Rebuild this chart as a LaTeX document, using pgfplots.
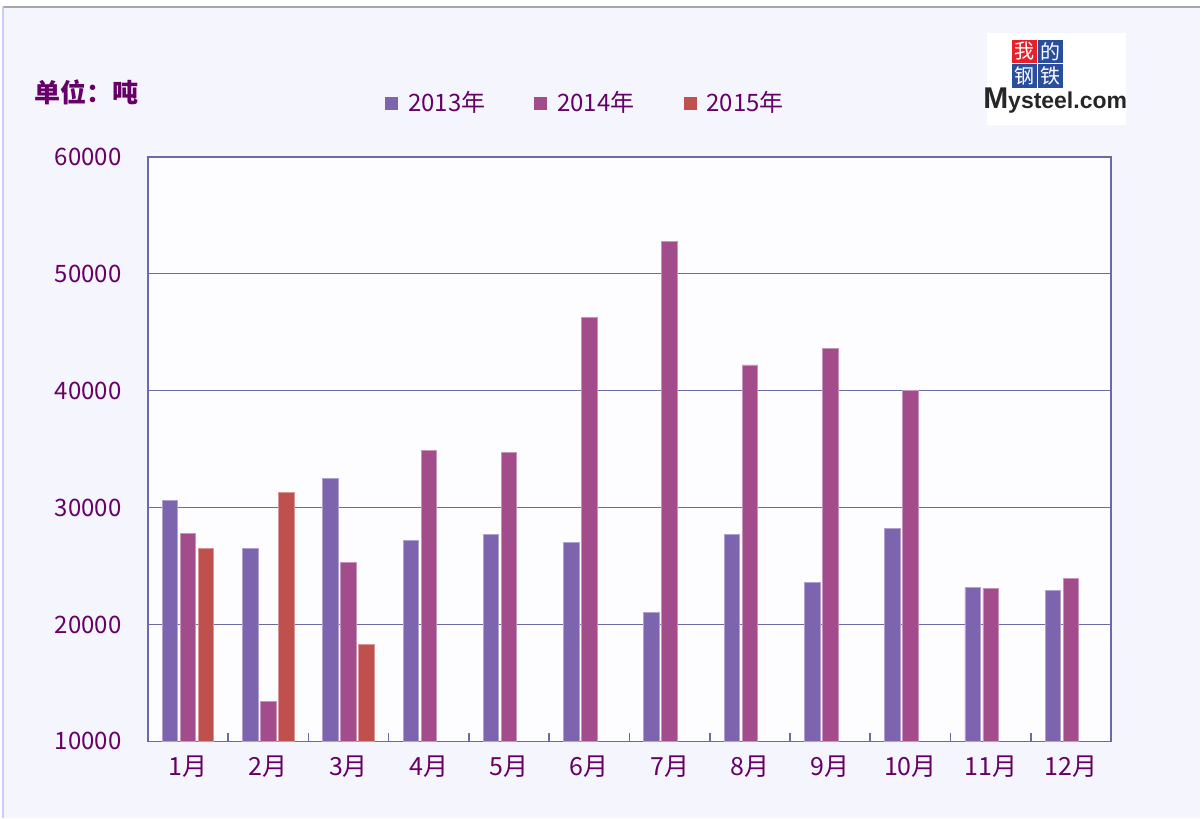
\documentclass[border=0pt]{standalone}
\usepackage{pgfplots}
\pgfplotsset{compat=1.18}
\usepackage{fontspec}
\newfontfamily\cjk{Noto Sans CJK SC}
\newfontfamily\logofont{Liberation Sans}
\setmainfont{Noto Sans CJK SC}
\definecolor{cA}{HTML}{7C64AE}
\definecolor{cB}{HTML}{A24C8C}
\definecolor{cC}{HTML}{C0504D}
\definecolor{axc}{HTML}{6A6AA8}
\definecolor{txt}{HTML}{660066}
\definecolor{bgc}{HTML}{F5F5FE}
\definecolor{plotbg}{HTML}{FDFDFF}
\definecolor{logored}{HTML}{E8202A}
\definecolor{logoblue}{HTML}{2A4E9E}
\pgfplotsset{/pgfplots/ybar legend/.style={/pgfplots/legend image code/.code={\fill[##1,draw=none] (0pt,-3.25pt) rectangle (6.5pt,3.25pt);}}}
\begin{document}
\begin{tikzpicture}
\fill[white] (0pt,0pt) rectangle (600.5pt,409.5pt);
\fill[bgc] (1.5pt,0pt) rectangle (600.5pt,406pt);
\draw[gray!70,line width=1pt] (1.5pt,406pt) -- (600.5pt,406pt);
\draw[blue!20,line width=0.6pt] (1.5pt,0pt) -- (1.5pt,406pt);
% unit label
\node[text=txt,font=\fontsize{13}{15}\selectfont\bfseries] at (43.5pt,363.5pt) {单位：吨};
% logo
\fill[white] (494pt,347pt) rectangle (563.5pt,393pt);
\fill[logored] (506.5pt,378pt) rectangle (519pt,389.5pt);
\fill[logoblue] (519.5pt,378pt) rectangle (532pt,389.5pt);
\fill[logoblue] (506.5pt,365.5pt) rectangle (519pt,377.5pt);
\fill[logoblue] (519.5pt,365.5pt) rectangle (532pt,377.5pt);
\node[text=white,font=\fontsize{10}{10}\selectfont,inner sep=0pt] at (512.75pt,383.75pt) {我};
\node[text=white,font=\fontsize{10}{10}\selectfont,inner sep=0pt] at (525.75pt,383.75pt) {的};
\node[text=white,font=\fontsize{10}{10}\selectfont,inner sep=0pt] at (512.75pt,371.5pt) {钢};
\node[text=white,font=\fontsize{10}{10}\selectfont,inner sep=0pt] at (525.75pt,371.5pt) {铁};
\node[text=black!85,font=\logofont\fontsize{11.5}{12}\selectfont\bfseries,inner sep=0pt] at (528pt,359pt) {\fontsize{15}{15}\selectfont M\fontsize{11.5}{12}\selectfont ysteel.com};
\begin{axis}[
  at={(74pt,38.5pt)}, anchor=south west,
  scale only axis, width=482pt, height=292.5pt,
  axis background/.style={fill=plotbg},
  ybar, bar width=7.75pt, ybar=1.25pt,
  xmin=0.5, xmax=12.5, ymin=10000, ymax=60000,
  xtick={1,...,12},
  xticklabels={1月,2月,3月,4月,5月,6月,7月,8月,9月,10月,11月,12月},
  minor xtick={1.5,2.5,...,11.5},
  major x tick style={draw=none},
  minor tick length=4pt,
  tick align=inside,
  xtick pos=bottom,
  ytick={10000,20000,...,60000},
  scaled y ticks=false,
  ytick style={draw=none},
  ymajorgrids,
  grid style={axc,line width=0.7pt},
  axis line style={axc,line width=0.8pt},
  minor x tick style={axc,line width=0.8pt},
  /pgf/number format/assume math mode=true,
  /pgf/number format/fixed,
  /pgf/number format/set thousands separator={},
  yticklabel style={text=txt,font=\fontsize{12}{14}\selectfont,anchor=east,inner sep=0pt,xshift=-13pt},
  xticklabel style={text=txt,font=\fontsize{12.5}{14}\selectfont,anchor=north,inner sep=0pt,yshift=-7pt},
  legend columns=3,
  legend style={at={(0.246,1.092)},anchor=west,draw=none,fill=none,inner sep=0pt,
    nodes={text=txt,font=\fontsize{12}{14}\selectfont,inner sep=0pt},column sep=5pt,
    /tikz/every even column/.append style={column sep=24.5pt}},
]
\addplot[fill=cA,draw=cA!60!white,line width=0.4pt] coordinates {(1,30600) (2,26500) (3,32500) (4,27200) (5,27700) (6,27000) (7,21000) (8,27700) (9,23600) (10,28200) (11,23200) (12,22900)};
\addplot[fill=cB,draw=cB!60!white,line width=0.4pt] coordinates {(1,27800) (2,13400) (3,25300) (4,34900) (5,34700) (6,46300) (7,52800) (8,42200) (9,43600) (10,40000) (11,23100) (12,23900)};
\addplot[fill=cC,draw=cC!60!white,line width=0.4pt] coordinates {(1,26500) (2,31300) (3,18300)};
\legend{2013年,2014年,2015年}
\end{axis}
\end{tikzpicture}
\end{document}
